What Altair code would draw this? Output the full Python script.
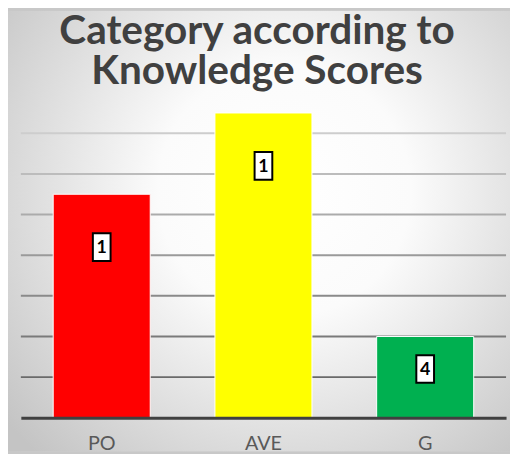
import altair as alt
import pandas as pd

title_lines = ["Category according to", "Knowledge Scores"]
categories = ["PO", "AVE", "G"]
values = [11, 15, 4]
labels = ["1", "1", "4"]
colors = ["#FF0000", "#FFFF00", "#00B050"]
grid_values = [2, 4, 6, 8, 10, 12, 14]

df = pd.DataFrame({"category": categories, "value": values, "label": labels, "color": colors})
grid_df = pd.DataFrame({"g": grid_values})
one = pd.DataFrame({"a": [0]})

W, H = 491, 329
PL, PT, PR, PB = 13, 83, 4, 34

yscale = alt.Scale(domain=[0, 16])
xenc = alt.X(
    "category:N",
    sort=categories,
    scale=alt.Scale(paddingInner=0.4, paddingOuter=0.2),
    axis=alt.Axis(
        title=None, labelAngle=0, labelFontSize=20, labelColor="#595959",
        labelFont="Lato", labelPadding=16, domainColor="#404040", domainWidth=3,
        ticks=False, grid=False, zindex=1,
    ),
)

bg = alt.Chart(one).mark_rect(
    fill=alt.Gradient(
        gradient="radial",
        x1=0.55, y1=0.42, x2=0.55, y2=0.42, r1=0, r2=0.72,
        stops=[
            alt.GradientStop(offset=0, color="#ffffff"),
            alt.GradientStop(offset=0.35, color="#fbfbfb"),
            alt.GradientStop(offset=1, color="#c4c4c4"),
        ],
    )
).encode(
    x=alt.value(-PL), x2=alt.value(W + PR),
    y=alt.value(-PT), y2=alt.value(H + PB),
)

title_layers = [
    alt.Chart(one).mark_text(
        font="Lato", fontSize=41, fontWeight="bold", color="#404040",
        align="center", baseline="alphabetic",
    ).encode(x=alt.value(239), y=alt.value(-49 + 40 * i), text=alt.value(t))
    for i, t in enumerate(title_lines)
]

grid = alt.Chart(grid_df).mark_rule(strokeWidth=2).encode(
    y=alt.Y("g:Q", scale=yscale, axis=None),
    stroke=alt.Stroke("g:Q", scale=alt.Scale(domain=[2, 14], range=["#6a6a6a", "#cdcdcd"]), legend=None),
)

bars = alt.Chart(df).mark_bar(stroke="white", strokeWidth=1).encode(
    x=xenc,
    y=alt.Y("value:Q", scale=yscale, axis=None),
    fill=alt.Fill("color:N", scale=None),
)

base_lbl = alt.Chart(df).transform_calculate(lp="max(datum.value*0.6, datum.value-2.6)")

boxes = base_lbl.mark_point(
    shape="M-0.64,-1L0.64,-1L0.64,1L-0.64,1Z", size=784, filled=True,
    fill="white", stroke="black", strokeWidth=2, opacity=1,
).encode(
    x=alt.X("category:N", sort=categories),
    y=alt.Y("lp:Q", scale=yscale),
)

texts = base_lbl.mark_text(
    font="Lato", fontWeight="bold", fontSize=18, color="black", baseline="middle", dy=1,
).encode(
    x=alt.X("category:N", sort=categories),
    y=alt.Y("lp:Q", scale=yscale),
    text="label:N",
)

chart = alt.layer(bg, *title_layers, grid, bars, boxes, texts).properties(
    width=W, height=H,
    autosize=alt.AutoSizeParams(type="none"),
    padding={"left": PL, "top": PT, "right": PR, "bottom": PB},
).configure(background="#c8c8c8").configure_view(stroke=None)

chart.save("out.html", embed_options={"renderer": "svg", "actions": False})
